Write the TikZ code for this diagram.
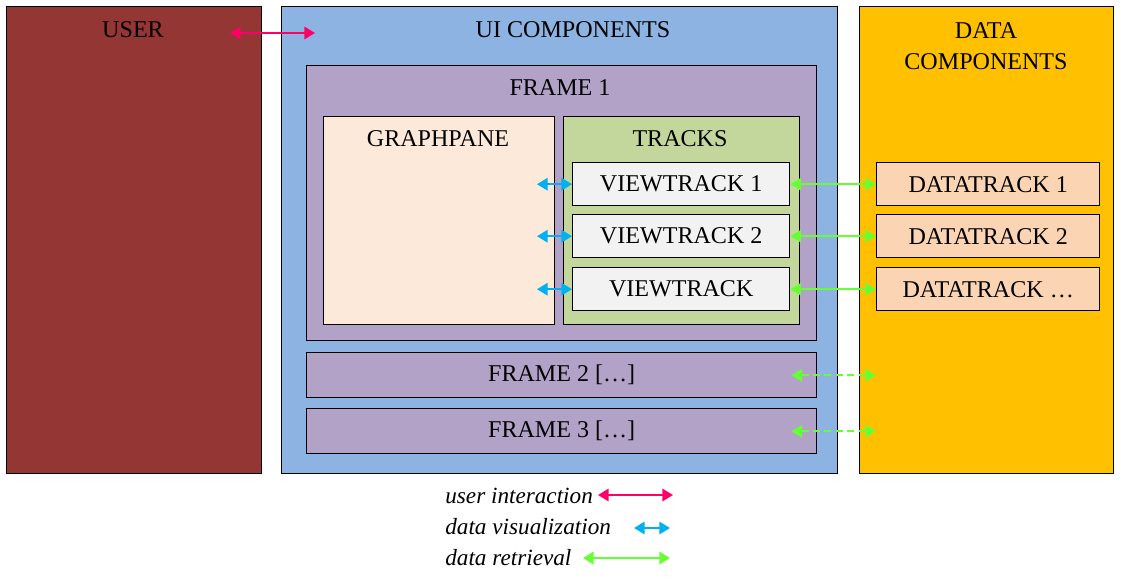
\documentclass[tikz,border=0pt]{standalone}
\usepackage{fontspec}
\setmainfont{Liberation Serif}
\usetikzlibrary{arrows.meta, positioning}

\definecolor{usercol}{HTML}{943634}
\definecolor{uicol}{HTML}{8DB3E2}
\definecolor{datacol}{HTML}{FFC000}
\definecolor{framecol}{HTML}{B2A2C7}
\definecolor{graphcol}{HTML}{FDE9D9}
\definecolor{trackscol}{HTML}{C3D69B}
\definecolor{vtcol}{HTML}{F2F2F2}
\definecolor{dtcol}{HTML}{FBD4B4}
\definecolor{usrarrow}{HTML}{FF0066}
\definecolor{visarrow}{HTML}{00B0F0}
\definecolor{retarrow}{HTML}{66FF33}

\def\px{0.02cm}

\begin{document}
\begin{tikzpicture}[x=0.02cm, y=-0.02cm,
	every node/.style={font=\fontsize{13.7}{18}\selectfont},
	box/.style={draw, line width=0.8pt, inner sep=0pt, anchor=north west},
	legtext/.style={anchor=west, inner sep=0pt, font=\fontsize{13.2}{18}\selectfont\itshape},
	link/.style={line width=1.1pt, {Triangle[length=6pt,width=7pt]}-{Triangle[length=6pt,width=7pt]}}]
	
	\useasboundingbox (0,0) rectangle (1121,579);
	
	%//outer columns
	\node[box, fill=usercol, minimum width=255*\px, minimum height=467*\px] (user) at (6,6) {};
	\node[box, fill=uicol, minimum width=556*\px, minimum height=467*\px] (ui) at (281,6) {};
	\node[box, fill=datacol, minimum width=254*\px, minimum height=467*\px] (data) at (859,6) {};
	
	\node (usert) at (133,30) {USER};
	\node (uit) at (573,30) {UI COMPONENTS};
	\node[align=center] (datat) at (986,46) {DATA\\COMPONENTS};
	
	%//frame 1
	\node[box, fill=framecol, minimum width=510*\px, minimum height=275*\px] (frame1) at (306,65) {};
	\node (frame1t) at (560,88) {FRAME 1};
	
	\node[box, fill=graphcol, minimum width=231*\px, minimum height=208*\px] (graph) at (323,116) {};
	\node (grapht) at (438,139) {GRAPHPANE};
	
	\node[box, fill=trackscol, minimum width=236*\px, minimum height=208*\px] (tracks) at (563,116) {};
	\node (trackst) at (680,139) {TRACKS};
	
	\foreach \y/\n/\t in {162/1/VIEWTRACK 1, 214/2/VIEWTRACK 2, 267/3/VIEWTRACK}
	\node[box, fill=vtcol, minimum width=217*\px, minimum height=43*\px] (vt\n) at (572,\y) {\t};
	
	\foreach \y/\n/\t in {162/1/DATATRACK 1, 214/2/DATATRACK 2, 267/3/DATATRACK \dots}
	\node[box, fill=dtcol, minimum width=223*\px, minimum height=43*\px] (dt\n) at (876,\y) {\t};
	
	%//frames 2 and 3
	\node[box, fill=framecol, minimum width=510*\px, minimum height=45*\px] (frame2) at (306,352) {FRAME 2 [\dots]};
	\node[box, fill=framecol, minimum width=510*\px, minimum height=45*\px] (frame3) at (306,408) {FRAME 3 [\dots]};
	
	%//connectors
	\coordinate (usrl) at (230,33);
	\coordinate (usrr) at (315,33);
	\draw[link, usrarrow] (usrl) -- (usrr);
	
	\foreach \n in {1,2,3} {
		\coordinate (vis\n) at ([xshift=-35*\px]vt\n.west);
		\draw[link, visarrow] (vis\n) -- (vt\n.west);
		\draw[link, retarrow] (vt\n.east) -- (dt\n.west);
	}
	
	\foreach \n in {2,3} {
		\coordinate (fr\n) at ([xshift=-26*\px]frame\n.east);
		\coordinate (dr\n) at (dt3.west |- frame\n.east);
		\draw[link, retarrow, dash pattern=on 4pt off 2.5pt] (fr\n) -- (dr\n);
	}
	
	%//legend
	\node[legtext] (leguser) at (445,496) {user interaction};
	\node[legtext] (legvis) at (445,527) {data visualization};
	\node[legtext] (legret) at (445,558) {data retrieval};
	
	\coordinate (lu1) at (598,495); \coordinate (lu2) at (673,495);
	\coordinate (lv1) at (634,528); \coordinate (lv2) at (670,528);
	\coordinate (lr1) at (583,558); \coordinate (lr2) at (670,558);
	\draw[link, usrarrow] (lu1) -- (lu2);
	\draw[link, visarrow] (lv1) -- (lv2);
	\draw[link, retarrow] (lr1) -- (lr2);
	
\end{tikzpicture}
\end{document}
